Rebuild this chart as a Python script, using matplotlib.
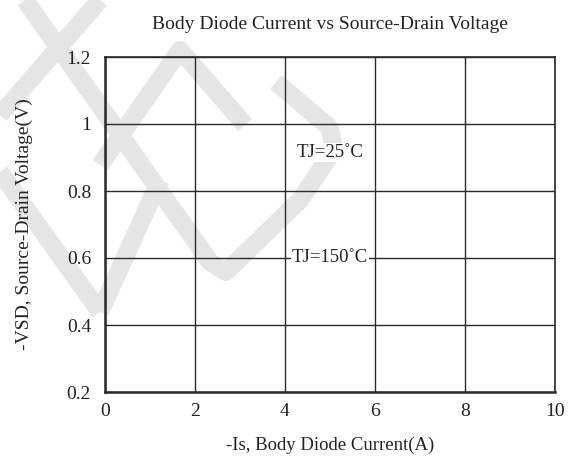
import numpy as np
import matplotlib
matplotlib.use("Agg")
import matplotlib.pyplot as plt

plt.rcParams['font.family'] = ['Liberation Serif', 'DejaVu Serif']

# axis ranges and ticks
x_ticks = [0, 2, 4, 6, 8, 10]
y_ticks = [0.2, 0.4, 0.6, 0.8, 1.0, 1.2]
y_tick_labels = ['0.2', '0.4', '0.6', '0.8', '1', '1.2']

# temperature labels (no curves are drawn in the source picture)
temp_labels = ['TJ=25˚C', 'TJ=150˚C']
temp_x = [5.0, 5.0]
temp_y = [0.915, 0.6]

# grey watermark strokes, in picture pixels (x right, y down)
wm_strokes = [
    [(100, 0), (0, 115)],
    [(25, 0), (210, 262), (226, 272), (300, 200), (334, 150), (330, 128), (276, 82)],
    [(0, 172), (100, 312)],
    [(100, 312), (160, 180)],
    [(100, 165), (180, 50), (245, 125)],
]

fig = plt.figure(figsize=(5.72, 4.61), dpi=100)

# watermark layer behind everything
bg = fig.add_axes([0, 0, 1, 1], zorder=0)
bg.set_xlim(0, 572)
bg.set_ylim(461, 0)
bg.axis('off')
for s in wm_strokes:
    s = np.array(s)
    bg.plot(s[:, 0], s[:, 1], color='#e5e5e5', lw=13,
            solid_capstyle='butt', solid_joinstyle='round')

ax = fig.add_axes([105/572, 1-392/461, 450/572, 335/461], zorder=1)
ax.set_facecolor('none')
ax.set_xlim(0, 10)
ax.set_ylim(0.2, 1.2)
ax.set_xticks(x_ticks)
ax.set_yticks(y_ticks)
ax.set_yticklabels(y_tick_labels)
ax.tick_params(length=0, labelsize=14, colors='#222222')
ax.tick_params(axis='y', pad=10)
ax.tick_params(axis='x', pad=8)
ax.grid(True, color='#2a2a2a', lw=1.0)
for side in ax.spines:
    ax.spines[side].set_color('#2a2a2a')
    ax.spines[side].set_linewidth(1.2)
ax.spines['left'].set_linewidth(1.8)
ax.spines['bottom'].set_linewidth(1.8)

for lab, x, y in zip(temp_labels, temp_x, temp_y):
    ax.text(x, y, lab, ha='center', va='center', fontsize=13.5, color='#222222',
            bbox=dict(facecolor='white', edgecolor='none', pad=1.0))

ax.set_title('Body Diode Current vs Source-Drain Voltage', fontsize=14,
             color='#222222', pad=20)
ax.set_xlabel('-Is, Body Diode Current(A)', fontsize=13.5, color='#222222',
              labelpad=12)
ax.set_ylabel('-VSD, Source-Drain Voltage(V)', fontsize=14, color='#222222',
              labelpad=24)

fig.savefig('out.png', dpi=100)
